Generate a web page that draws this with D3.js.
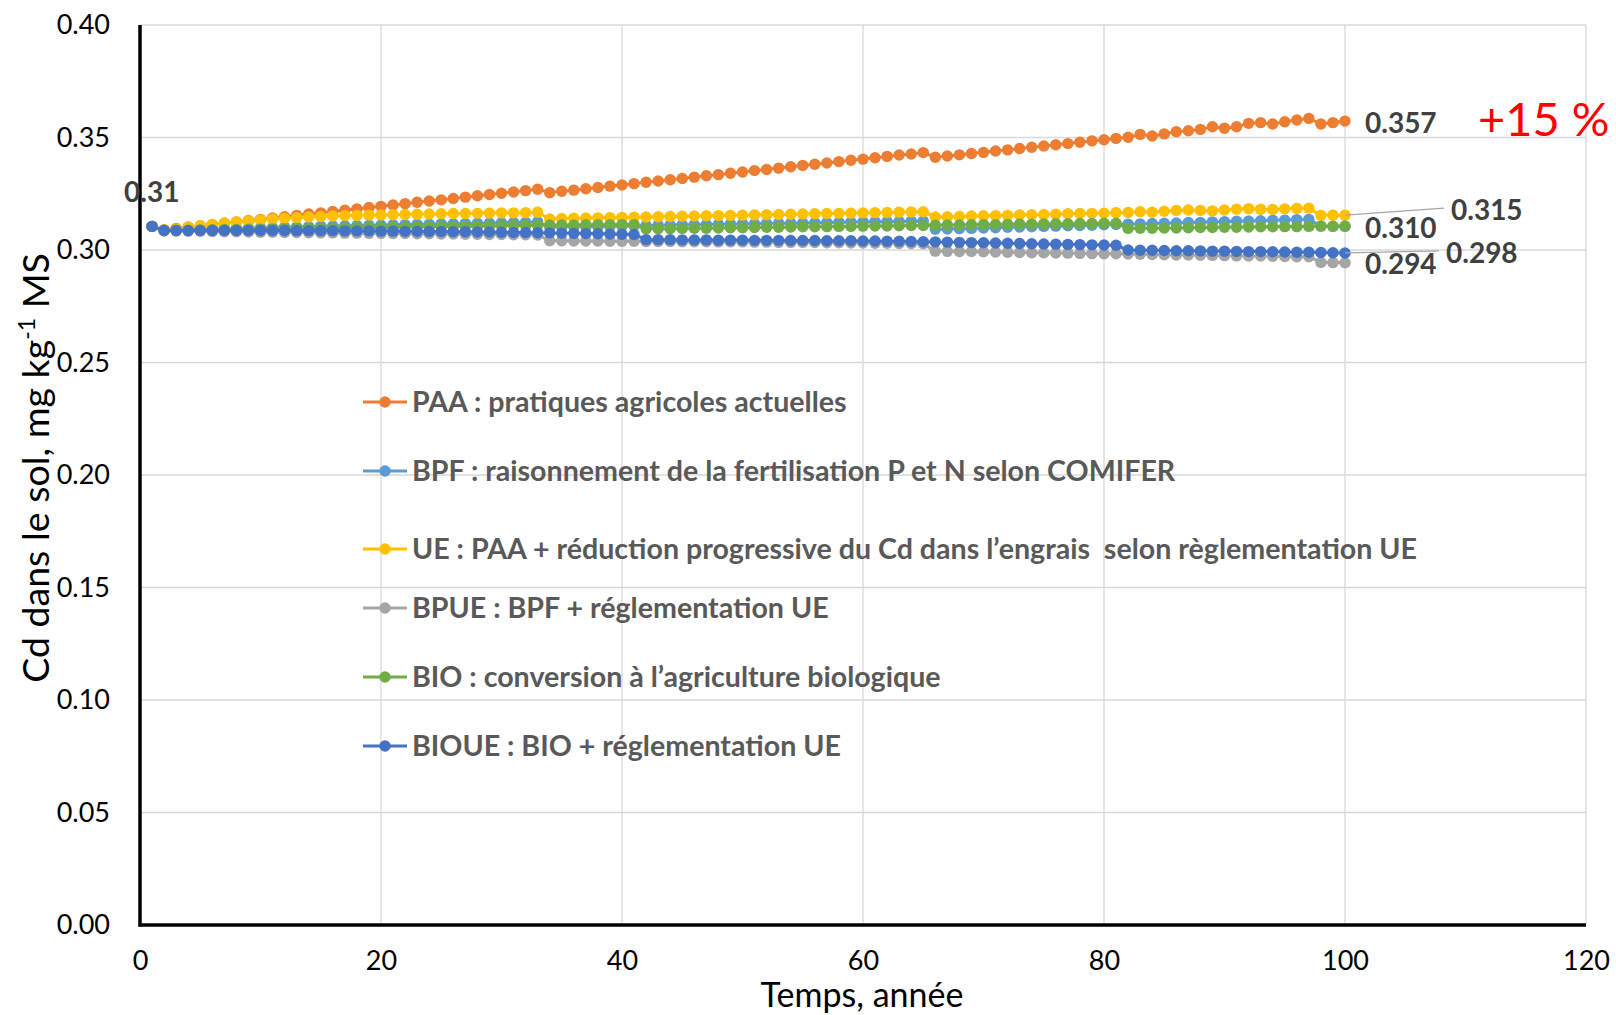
<!DOCTYPE html>
<html><head><meta charset="utf-8">
<script src="https://cdn.jsdelivr.net/npm/d3@7"></script>
<style>
html,body{margin:0;padding:0;background:#fff;}
svg{display:block;font-family:Lato, "Open Sans", sans-serif;}
</style></head>
<body><svg id="chart" width="1616" height="1015"></svg>
<script>
const years = [1,2,3,4,5,6,7,8,9,10,11,12,13,14,15,16,17,18,19,20,21,22,23,24,25,26,27,28,29,30,31,32,33,34,35,36,37,38,39,40,41,42,43,44,45,46,47,48,49,50,51,52,53,54,55,56,57,58,59,60,61,62,63,64,65,66,67,68,69,70,71,72,73,74,75,76,77,78,79,80,81,82,83,84,85,86,87,88,89,90,91,92,93,94,95,96,97,98,99,100];

const seriesNames = ["PAA : pratiques agricoles actuelles",
  "BPF : raisonnement de la fertilisation P et N selon COMIFER",
  "UE : PAA + réduction progressive du Cd dans l’engrais  selon règlementation UE",
  "BPUE : BPF + réglementation UE",
  "BIO : conversion à l’agriculture biologique",
  "BIOUE : BIO + réglementation UE"];

const PAA = [0.3105,
 0.3090,0.3096,0.3102,0.3107,0.3113,0.3119,0.3125,0.3131,0.3136,0.3142,0.3148,0.3154,0.3160,0.3165,0.3171,0.3177,0.3183,0.3189,0.3194,0.3200,0.3206,0.3212,0.3218,0.3223,0.3229,0.3235,0.3241,0.3247,0.3252,0.3258,0.3264,0.3270,
 0.3255,0.3261,0.3266,0.3272,0.3278,0.3284,0.3289,0.3295,0.3301,0.3307,0.3312,0.3318,0.3324,0.3330,0.3335,0.3341,0.3347,0.3353,0.3358,0.3364,0.3370,0.3376,0.3381,0.3387,0.3393,0.3399,0.3404,0.3410,0.3416,0.3422,0.3427,0.3433,
 0.3412,0.3418,0.3423,0.3429,0.3434,0.3440,0.3445,0.3451,0.3457,0.3462,0.3468,0.3473,0.3479,0.3485,0.3490,0.3496,0.3501,
 0.3514,0.3507,0.3516,0.3526,0.3530,0.3536,0.3548,0.3541,0.3548,0.3563,0.3566,0.3560,0.3570,0.3578,0.3585,
 0.3560,0.3566,0.3573];

const BPF = [0.3105,
 0.3087,0.3088,0.3090,0.3091,0.3093,0.3094,0.3096,0.3097,0.3099,0.3100,0.3102,0.3103,0.3104,0.3106,0.3107,0.3108,0.3109,0.3110,0.3111,0.3112,0.3113,0.3114,0.3115,0.3116,0.3117,0.3118,0.3119,0.3120,0.3121,0.3122,0.3123,0.3125,
 0.3102,0.3103,0.3104,0.3105,0.3105,0.3106,0.3107,0.3108,0.3109,0.3110,0.3111,0.3112,0.3112,0.3113,0.3114,0.3115,0.3116,0.3117,0.3118,0.3119,0.3119,0.3120,0.3121,0.3122,0.3123,0.3124,0.3125,0.3126,0.3126,0.3127,0.3128,0.3129,
 0.3092,0.3093,0.3095,0.3096,0.3098,0.3099,0.3101,0.3102,0.3103,0.3105,0.3106,0.3108,0.3109,0.3110,0.3112,0.3113,0.3115,0.3116,0.3118,0.3119,0.3120,0.3122,0.3123,0.3125,0.3126,0.3128,0.3129,0.3130,0.3132,0.3133,0.3135,0.3136,
 0.3106,0.3105,0.3105];

const UE = [0.3105,
 0.3088,0.3094,0.3101,0.3108,0.3114,0.3120,0.3125,0.3130,0.3134,0.3138,0.3141,0.3144,0.3147,0.3149,0.3151,0.3153,0.3154,0.3155,0.3156,0.3157,0.3158,0.3159,0.3160,0.3161,0.3162,0.3162,0.3163,0.3164,0.3165,0.3165,0.3166,0.3168,
 0.3138,0.3140,0.3141,0.3142,0.3143,0.3144,0.3145,0.3146,0.3147,0.3148,0.3149,0.3150,0.3151,0.3152,0.3153,0.3154,0.3155,0.3156,0.3157,0.3158,0.3159,0.3160,0.3161,0.3162,0.3163,0.3164,0.3165,0.3166,0.3167,0.3168,0.3169,0.3170,
 0.3147,0.3148,0.3149,0.3151,0.3152,0.3153,0.3154,0.3156,0.3157,0.3158,0.3159,0.3161,0.3162,0.3163,0.3164,0.3166,0.3167,0.3170,0.3168,0.3172,0.3176,0.3178,0.3176,0.3174,0.3178,0.3181,0.3184,0.3181,0.3180,0.3183,0.3185,0.3186,
 0.3154,0.3155,0.3155];

const BPUE = [0.3105,
 0.3085,0.3084,0.3083,0.3083,0.3082,0.3081,0.3081,0.3080,0.3079,0.3079,0.3078,0.3078,0.3077,0.3076,0.3076,0.3075,0.3075,0.3074,0.3074,0.3073,0.3073,0.3072,0.3072,0.3071,0.3071,0.3070,0.3070,0.3069,0.3069,0.3068,0.3068,0.3067,
 0.3041,0.3041,0.3040,0.3040,0.3040,0.3039,0.3039,0.3039,0.3038,0.3038,0.3038,0.3037,0.3037,0.3037,0.3036,0.3036,0.3036,0.3035,0.3035,0.3034,0.3034,0.3033,0.3033,0.3032,0.3032,0.3031,0.3031,0.3030,0.3030,0.3029,0.3029,0.3028,
 0.2995,0.2994,0.2993,0.2993,0.2992,0.2991,0.2990,0.2989,0.2988,0.2988,0.2987,0.2986,0.2985,0.2984,0.2983,0.2983,0.2982,0.2981,0.2980,0.2979,0.2978,0.2978,0.2977,0.2976,0.2975,0.2974,0.2973,0.2973,0.2972,0.2971,0.2970,0.2970,
 0.2945,0.2944,0.2943];

const BIO = [0.3105,
 0.3087,0.3088,0.3088,0.3089,0.3090,0.3091,0.3091,0.3092,0.3093,0.3094,0.3094,0.3095,0.3096,0.3097,0.3097,0.3098,0.3099,0.3100,0.3100,0.3101,0.3102,0.3103,0.3103,0.3104,0.3105,0.3106,0.3106,0.3107,0.3108,0.3109,0.3109,0.3110,0.3111,0.3111,0.3111,0.3112,0.3112,0.3112,0.3113,0.3113,
 0.3094,0.3095,0.3095,0.3096,0.3097,0.3097,0.3098,0.3099,0.3099,0.3100,0.3101,0.3101,0.3102,0.3103,0.3103,0.3104,0.3105,0.3105,0.3106,0.3107,0.3107,0.3108,0.3109,0.3109,0.3110,0.3111,0.3111,0.3112,0.3113,0.3113,0.3114,0.3115,0.3115,0.3116,0.3117,0.3117,0.3118,0.3118,0.3119,0.3119,
 0.3096,0.3097,0.3097,0.3098,0.3098,0.3099,0.3100,0.3100,0.3101,0.3101,0.3102,0.3103,0.3103,0.3104,0.3104,0.3105,0.3106,0.3106,0.3107];

const BIOUE = [0.3105,
 0.3087,0.3087,0.3087,0.3087,0.3087,0.3087,0.3087,0.3087,0.3087,0.3087,0.3087,0.3086,0.3086,0.3086,0.3086,0.3085,0.3085,0.3085,0.3084,0.3084,0.3083,0.3083,0.3082,0.3082,0.3081,0.3081,0.3080,0.3080,0.3079,0.3078,0.3078,0.3077,0.3076,0.3075,0.3074,0.3073,0.3072,0.3071,0.3070,0.3069,
 0.3046,0.3046,0.3046,0.3045,0.3045,0.3045,0.3044,0.3044,0.3044,0.3043,0.3043,0.3043,0.3042,0.3042,0.3042,0.3041,0.3041,0.3041,0.3040,0.3040,0.3039,0.3039,0.3038,0.3037,0.3036,0.3035,0.3034,0.3033,0.3032,0.3031,0.3030,0.3029,0.3028,0.3027,0.3026,0.3025,0.3024,0.3023,0.3022,0.3021,
 0.3000,0.2999,0.2999,0.2998,0.2997,0.2997,0.2996,0.2995,0.2995,0.2994,0.2993,0.2993,0.2992,0.2991,0.2990,0.2990,0.2989,0.2988,0.2987];

const seriesValues = [PAA, BPF, UE, BPUE, BIO, BIOUE];
const colors = ["#ED7D31","#5B9BD5","#FFC000","#A5A5A5","#70AD47","#4472C4"];

const yTicks = [0,0.05,0.10,0.15,0.20,0.25,0.30,0.35,0.40];
const xTicks = [0,20,40,60,80,100,120];
const startLabel = "0.31";
const endLabels = ["0.357","0.310","0.315","0.298","0.294"];
const increaseLabel = "+15 %";

const svg = d3.select("#chart");
const W = 1616, H = 1015;
const m = {left:140, right:W-1586, top:25, bottom:H-925};
const x = d3.scaleLinear().domain([0,120]).range([m.left, W-m.right]);
const y = d3.scaleLinear().domain([0,0.40]).range([H-m.bottom, m.top]);

svg.append("rect").attr("width",W).attr("height",H).attr("fill","#fff");

// gridlines
const g = svg.append("g");
g.selectAll(".hg").data(yTicks.filter(d=>d>0)).enter().append("line")
  .attr("x1",x(0)).attr("x2",x(120)).attr("y1",d=>y(d)).attr("y2",d=>y(d))
  .attr("stroke","#D9D9D9").attr("stroke-width",1.3);
g.selectAll(".vg").data(xTicks.filter(d=>d>0)).enter().append("line")
  .attr("x1",d=>x(d)).attr("x2",d=>x(d)).attr("y1",y(0)).attr("y2",y(0.40))
  .attr("stroke","#D9D9D9").attr("stroke-width",1.3);

// axes
const yAxis = d3.axisLeft(y).tickValues(yTicks).tickFormat(d3.format(".2f")).tickSize(0).tickPadding(30);
const xAxis = d3.axisBottom(x).tickValues(xTicks).tickFormat(d3.format("d")).tickSize(0).tickPadding(26);
const ya = svg.append("g").attr("transform",`translate(${x(0)},0)`).call(yAxis);
const xa = svg.append("g").attr("transform",`translate(0,${y(0)})`).call(xAxis);
[ya,xa].forEach(a=>{
  a.select(".domain").remove();
  a.selectAll("text").attr("font-family","Lato").attr("font-size",27).attr("fill","#000");
});
svg.append("line").attr("x1",x(0)).attr("x2",x(0)).attr("y1",y(0.40)).attr("y2",y(0)+1.5)
  .attr("stroke","#000").attr("stroke-width",3.5);
svg.append("line").attr("x1",x(0)-1.5).attr("x2",x(120)).attr("y1",y(0)).attr("y2",y(0))
  .attr("stroke","#000").attr("stroke-width",3.5);

// axis titles
svg.append("text").attr("x",862).attr("y",1007).attr("text-anchor","middle")
  .attr("font-size",34).attr("fill","#000").text("Temps, année");
const yt = svg.append("text").attr("transform","translate(49,468) rotate(-90)")
  .attr("text-anchor","middle").attr("font-size",37.5).attr("fill","#000");
yt.append("tspan").text("Cd dans le sol, mg kg");
yt.append("tspan").attr("font-size",23).attr("dy",-14).text("-1");
yt.append("tspan").attr("dy",14).text(" MS");

// series
const line = d3.line().x((d,i)=>x(years[i])).y(d=>y(d));
seriesValues.forEach((vals,si)=>{
  const sg = svg.append("g");
  sg.append("path").datum(vals).attr("d",line).attr("fill","none")
    .attr("stroke",colors[si]).attr("stroke-width",3).attr("stroke-linejoin","round");
  sg.selectAll("circle").data(vals).enter().append("circle")
    .attr("cx",(d,i)=>x(years[i])).attr("cy",d=>y(d)).attr("r",5.7)
    .attr("fill",colors[si]);
});

// data labels
const lblColor = "#404040";
function lab(txt, xx, yy){
  svg.append("text").attr("x",xx).attr("y",yy).attr("font-size",28).attr("font-weight","bold")
    .attr("fill",lblColor).text(txt);
}
const xEnd = x(years[99]);
lab(startLabel, x(years[0])-28, y(PAA[0])-24);
lab(endLabels[0], xEnd+20, y(PAA[99])+12);
lab(endLabels[1], xEnd+20, y(BIO[99])+12);
lab(endLabels[2], xEnd+106, y(UE[99])+5);
lab(endLabels[3], xEnd+101, y(BIOUE[99])+10);
lab(endLabels[4], xEnd+20, y(BPUE[99])+11);
svg.append("line").attr("x1",xEnd).attr("y1",y(UE[99])).attr("x2",xEnd+99).attr("y2",y(UE[99])-7)
  .attr("stroke","#A6A6A6").attr("stroke-width",1.2);
svg.append("line").attr("x1",xEnd).attr("y1",y(BIOUE[99])).attr("x2",xEnd+94).attr("y2",y(BIOUE[99])-2)
  .attr("stroke","#A6A6A6").attr("stroke-width",1.2);
svg.append("text").attr("x",xEnd+133).attr("y",y(PAA[99])+15).attr("font-size",47)
  .attr("fill","#FF0000").text(increaseLabel);

// legend
const legY = [402,471,549,608,677,746];
const lg = svg.append("g");
seriesNames.forEach((nm,i)=>{
  lg.append("line").attr("x1",363).attr("x2",407).attr("y1",legY[i]).attr("y2",legY[i])
    .attr("stroke",colors[i]).attr("stroke-width",3);
  lg.append("circle").attr("cx",385).attr("cy",legY[i]).attr("r",5.7).attr("fill",colors[i]);
  lg.append("text").attr("x",412).attr("y",legY[i]+10).attr("font-size",28.6).attr("font-weight","bold")
    .attr("fill","#595959").style("white-space","pre").text(nm);
});
</script></body></html>
